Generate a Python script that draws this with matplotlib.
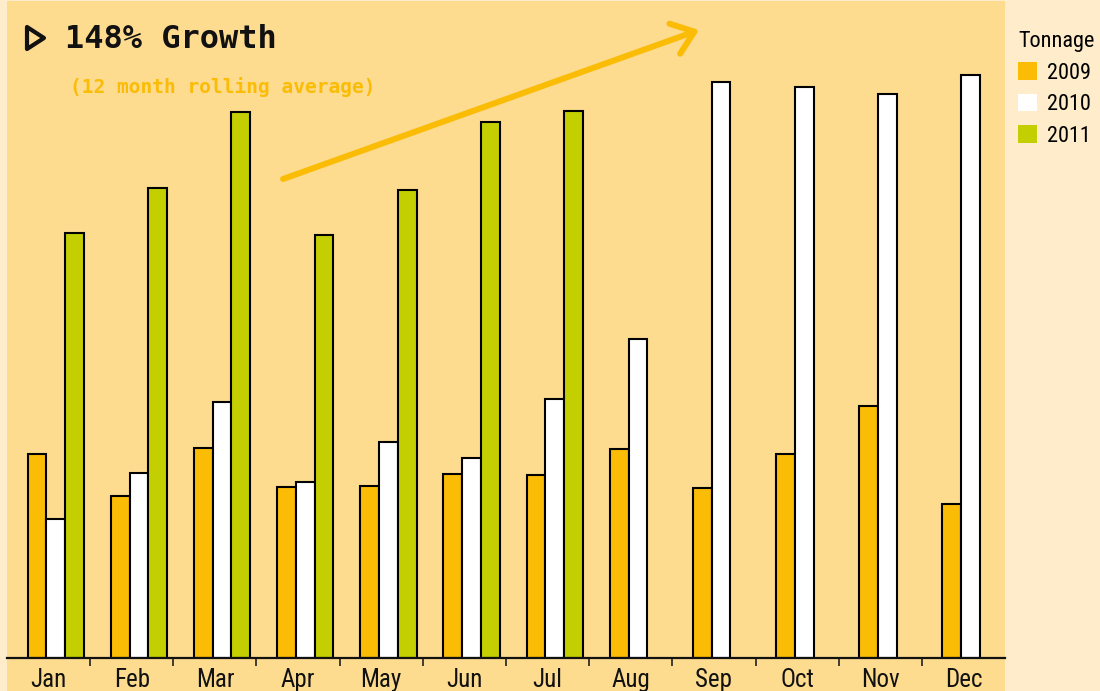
import matplotlib
matplotlib.use("Agg")
import matplotlib.pyplot as plt
from matplotlib.patches import Patch, Rectangle, Polygon

months = ["Jan", "Feb", "Mar", "Apr", "May", "Jun",
          "Jul", "Aug", "Sep", "Oct", "Nov", "Dec"]
years = ["2009", "2010", "2011"]
tonnage_2009 = [204, 162, 210, 171, 172, 184, 183, 209, 170, 204, 252, 154]
tonnage_2010 = [139, 185, 256, 176, 216, 200, 259, 319, 576, 571, 564, 583]
tonnage_2011 = [425, 470, 546, 423, 468, 536, 547]

colors = ["#FBBC05", "#FFFFFF", "#C3CF00"]
plot_bg = "#FDDB8F"
outer_bg = "#FEECCB"
mono = ["DejaVu Sans Mono"]
condensed = ["Roboto Condensed", "Liberation Sans"]

fig = plt.figure(figsize=(11, 6.91), dpi=100, facecolor=outer_bg)
# plot area background also runs under the month labels
fig.patches.append(Rectangle((7 / 1100, 0), 998 / 1100, 690 / 691,
                             transform=fig.transFigure, facecolor=plot_bg,
                             edgecolor="none", zorder=-10))
ax = fig.add_axes([7 / 1100, 33 / 691, 998 / 1100, 657 / 691])
ax.set_facecolor(plot_bg)

width = 0.226
offsets = [-0.14, 0.086, 0.312]
series = [tonnage_2009, tonnage_2010, tonnage_2011]
for k, vals in enumerate(series):
    xs = [i + offsets[k] for i in range(len(vals))]
    ax.bar(xs, vals, width=width, color=colors[k], edgecolor="black",
           linewidth=1.5, zorder=2)

ax.set_xlim(-0.5, 11.5)
ax.set_ylim(0, 657)
ax.set_xticks(range(12))
ax.set_xticklabels(months, family=condensed, fontsize=18, color="#111111")
ax.set_xticks([i + 0.5 for i in range(11)], minor=True)
ax.tick_params(axis="x", which="major", length=0, pad=7)
ax.tick_params(axis="x", which="minor", length=6, width=1.2, color="#222222")
ax.set_yticks([])
for side in ["left", "right", "top"]:
    ax.spines[side].set_visible(False)
ax.spines["bottom"].set_linewidth(1.6)
ax.spines["bottom"].set_color("#111111")

# headline with outlined play-triangle
tri = Polygon([(27 / 1100, 1 - 27 / 691), (27 / 1100, 1 - 49 / 691),
               (44 / 1100, 1 - 38 / 691)], closed=True, fill=False,
              edgecolor="#111111", lw=3.0, joinstyle="round",
              transform=fig.transFigure)
fig.patches.append(tri)
fig.text(65 / 1100, 1 - 48 / 691, "148% Growth", family=mono,
         fontsize=23, fontweight="bold", va="baseline", color="#111111")
fig.text(70 / 1100, 1 - 93 / 691, "(12 month rolling average)", family=mono,
         fontsize=14, fontweight="bold", va="baseline", color="#FBBC05")

ax.annotate("", xy=(699 / 1100, 1 - 30 / 691), xytext=(283 / 1100, 1 - 179 / 691),
            xycoords="figure fraction", textcoords="figure fraction",
            arrowprops=dict(arrowstyle="->,head_length=1.5,head_width=1.15",
                            color="#FBBC05", lw=4.3, capstyle="round",
                            joinstyle="round", shrinkA=0, shrinkB=0))

legend_font = {"family": condensed, "size": 16}
handles = [Patch(facecolor=c, edgecolor="none") for c in colors]
leg = fig.legend(handles, years, title="Tonnage", loc="upper left",
                 bbox_to_anchor=(1018 / 1100, 1 - 31 / 691),
                 frameon=False, borderpad=0, borderaxespad=0,
                 handlelength=0.85, handleheight=0.85, handletextpad=0.45,
                 labelspacing=0.45, alignment="left",
                 prop=legend_font, title_fontproperties=legend_font)

fig.savefig("out.png", dpi=100, facecolor=outer_bg)
